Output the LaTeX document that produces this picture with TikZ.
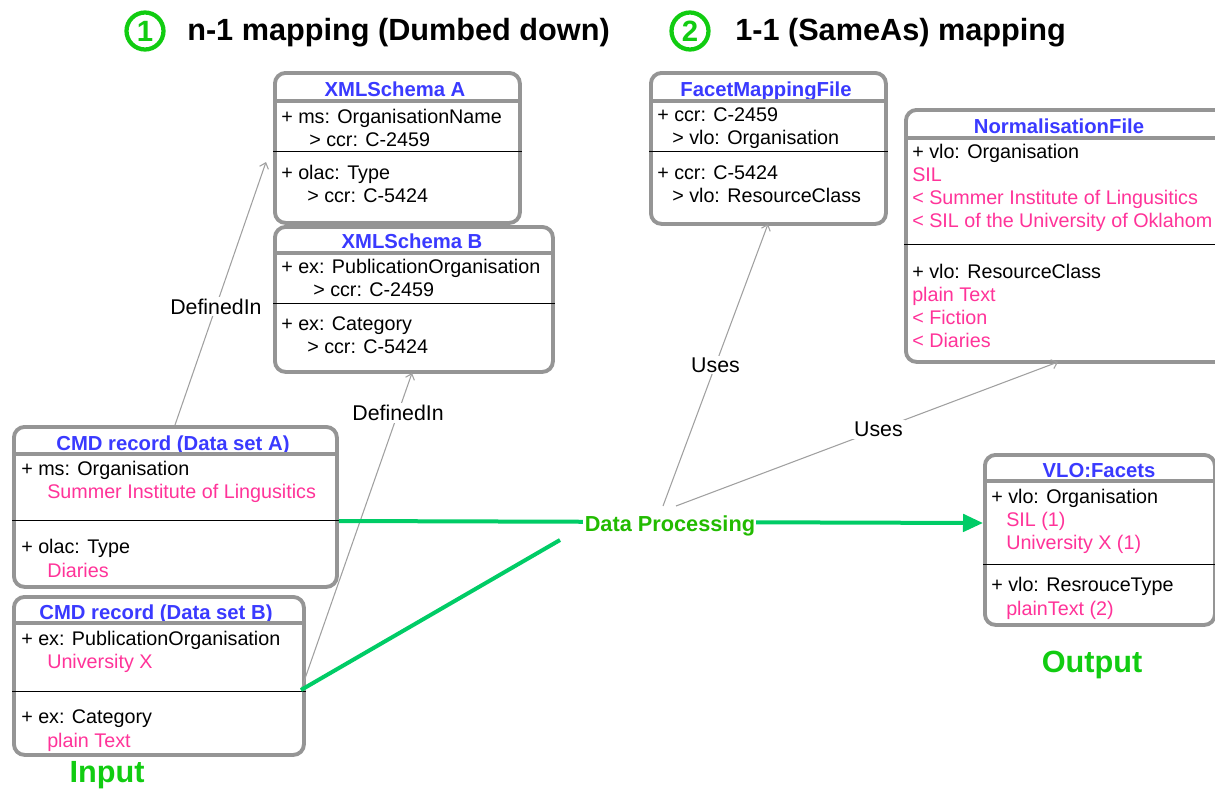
\documentclass[tikz,border=0pt]{standalone}
\usepackage{fontspec}
\setmainfont{Liberation Sans}
\usetikzlibrary{arrows.meta}
\definecolor{bordergray}{HTML}{959595}
\definecolor{ttlblue}{HTML}{3A3AFF}
\definecolor{valpink}{HTML}{FF3399}
\definecolor{linegreen}{HTML}{00CC66}
\definecolor{headgreen}{HTML}{11CC11}
\definecolor{dpgreen}{HTML}{22BB00}
\definecolor{relgray}{HTML}{A0A0A0}
\newcommand{\umlbox}[5]{\node[umlbox,minimum width={(#4-#2)*0.75pt},minimum height={(#5-#3)*0.75pt}] (#1) at (#2,#3) {};}
\begin{document}
\begin{tikzpicture}[x=0.75pt,y=-0.75pt,
  umlbox/.style={draw=bordergray,line width=2.9pt,rounded corners=8pt,fill=white,inner sep=0pt,anchor=north west},
  hdr/.style={draw=bordergray,line width=2.4pt},
  sepline/.style={draw=black,line width=0.7pt},
  ttl/.style={font=\fontsize{15.2}{17}\selectfont\bfseries,text=ttlblue,anchor=base,inner sep=0pt},
  row/.style={font=\fontsize{14.8}{17}\selectfont,anchor=base west,inner sep=0pt},
  val/.style={row,text=valpink},
  rel/.style={draw=relgray,line width=0.8pt,-{Straight Barb[length=4pt,width=7pt]}},
  lbl/.style={font=\fontsize{16}{18}\selectfont,fill=white,inner sep=1.5pt},
  flow/.style={draw=linegreen,line width=3pt},
  bigttl/.style={font=\fontsize{23}{26}\selectfont\bfseries,anchor=base west,inner sep=0pt},
  numc/.style={circle,draw=headgreen,line width=3.2pt,minimum size=37*0.75pt,inner sep=0pt,text=headgreen,font=\fontsize{22}{24}\selectfont\bfseries},
  io/.style={font=\fontsize{23}{26}\selectfont\bfseries,text=headgreen,anchor=base,inner sep=0pt}
]
\useasboundingbox (0,0) rectangle (1215,789);
\clip (0,0) rectangle (1215,789);

% headings
\node[numc] (c1) at (145,31) {1};
\node[bigttl] (h1) at (187,40) {n-1 mapping (Dumbed down)};
\node[numc] (c2) at (690,31) {2};
\node[bigttl] (h2) at (735,40) {1-1 (SameAs) mapping};

% XMLSchema A
\umlbox{xa}{273}{71}{518}{221}
\node[ttl] (xat) at (395,96) {XMLSchema A};
\draw[hdr] (xa.west |- 0,101) -- (xa.east |- 0,101);
\node[row] (xa1) at (281,123) {+ ms: OrganisationName};
\node[row] (xa2) at (309,146) {> ccr: C-2459};
\draw[sepline] (xa.west |- 0,151) -- (xa.east |- 0,151);
\node[row] (xa3) at (281,179) {+ olac: Type};
\node[row] (xa4) at (307,202) {> ccr: C-5424};

% XMLSchema B
\umlbox{xb}{273}{225}{551}{370}
\node[ttl] (xbt) at (412,248) {XMLSchema B};
\draw[hdr] (xb.west |- 0,253) -- (xb.east |- 0,253);
\node[row] (xb1) at (281,273) {+ ex: PublicationOrganisation};
\node[row] (xb2) at (313,296) {> ccr: C-2459};
\draw[sepline] (xb.west |- 0,303) -- (xb.east |- 0,303);
\node[row] (xb3) at (281,330) {+ ex: Category};
\node[row] (xb4) at (307,353) {> ccr: C-5424};

% FacetMappingFile
\umlbox{fm}{649}{71}{884}{222}
\node[ttl] (fmt) at (766,96) {FacetMappingFile};
\draw[hdr] (fm.west |- 0,101) -- (fm.east |- 0,101);
\node[row] (fm1) at (657,121) {+ ccr: C-2459};
\node[row] (fm2) at (672,144) {> vlo: Organisation};
\draw[sepline] (fm.west |- 0,151) -- (fm.east |- 0,151);
\node[row] (fm3) at (657,179) {+ ccr: C-5424};
\node[row] (fm4) at (672,202) {> vlo: ResourceClass};

% NormalisationFile
\umlbox{nf}{904}{108}{1240}{360}
\node[ttl] (nft) at (1059,133) {NormalisationFile};
\draw[hdr] (nf.west |- 0,138) -- (nf.east |- 0,138);
\node[row] (nf1) at (912,158) {+ vlo: Organisation};
\node[val] (nf2) at (912,181) {SIL};
\node[val] (nf3) at (912,204) {< Summer Institute of Lingusitics};
\node[val] (nf4) at (912,227) {< SIL of the University of Oklahom};
\draw[sepline] (nf.west |- 0,244) -- (nf.east |- 0,244);
\node[row] (nf5) at (912,278) {+ vlo: ResourceClass};
\node[val] (nf6) at (912,301) {plain Text};
\node[val] (nf7) at (912,324) {< Fiction};
\node[val] (nf8) at (912,347) {< Diaries};

% CMD record A
\umlbox{ca}{12}{425}{335}{585}
\node[ttl] (cat) at (173,450) {CMD record (Data set A)};
\draw[hdr] (ca.west |- 0,454) -- (ca.east |- 0,454);
\node[row] (ca1) at (21,475) {+ ms: Organisation};
\node[val] (ca2) at (47,498) {Summer Institute of Lingusitics};
\draw[sepline] (ca.west |- 0,520) -- (ca.east |- 0,520);
\node[row] (ca3) at (21,553) {+ olac: Type};
\node[val] (ca4) at (47,577) {Diaries};

% CMD record B
\umlbox{cb}{12}{595}{302}{753}
\node[ttl] (cbt) at (156,619) {CMD record (Data set B)};
\draw[hdr] (cb.west |- 0,623) -- (cb.east |- 0,623);
\node[row] (cb1) at (21,645) {+ ex: PublicationOrganisation};
\node[val] (cb2) at (47,668) {University X};
\draw[sepline] (cb.west |- 0,691) -- (cb.east |- 0,691);
\node[row] (cb3) at (21,723) {+ ex: Category};
\node[val] (cb4) at (47,747) {plain Text};

% VLO:Facets
\umlbox{vf}{983}{453}{1213}{623}
\node[ttl] (vft) at (1099,477) {VLO:Facets};
\draw[hdr] (vf.west |- 0,481) -- (vf.east |- 0,481);
\node[row] (vf1) at (991,503) {+ vlo: Organisation};
\node[val] (vf2) at (1006,526) {SIL (1)};
\node[val] (vf3) at (1006,549) {University X (1)};
\draw[sepline] (vf.west |- 0,564) -- (vf.east |- 0,564);
\node[row] (vf4) at (991,591) {+ vlo: ResrouceType};
\node[val] (vf5) at (1006,615) {plainText (2)};

% Input / Output
\node[io] (inp) at (107,782) {Input};
\node[io] (outp) at (1092,672) {Output};

% connector end points
\coordinate (xaIn) at (266,162);
\coordinate (xbIn) at (412,373);
\coordinate (fmIn) at (768,224);
\coordinate (nfIn) at (1058,362);
\coordinate (cbOut) at (301,690);
\coordinate (u1s) at (663,506);
\coordinate (u2s) at (676,506);
\coordinate (g2e) at (560,540);

% relations
\draw[rel] (ca.north -| 175,0) -- node[lbl,pos=0.45] (l1) {DefinedIn} (xaIn);
\draw[rel] (cbOut) -- node[lbl,pos=0.874] (l2) {DefinedIn} (xbIn);
\draw[rel] (u1s) -- node[lbl,pos=0.5] (l3) {Uses} (fmIn);
\draw[rel] (u2s) -- node[lbl,pos=0.53] (l4) {Uses} (nfIn);

% data flow
\draw[flow,-{Triangle[length=15pt,width=13pt]}] (ca.east |- 0,521) -- node[pos=0.514,yshift=-3pt,fill=white,inner sep=1pt,text=dpgreen,font=\fontsize{16.3}{18}\selectfont\bfseries] (dp) {Data Processing} (vf.west |- 0,523);
\draw[flow] (cbOut) -- (g2e);
\end{tikzpicture}
\end{document}
